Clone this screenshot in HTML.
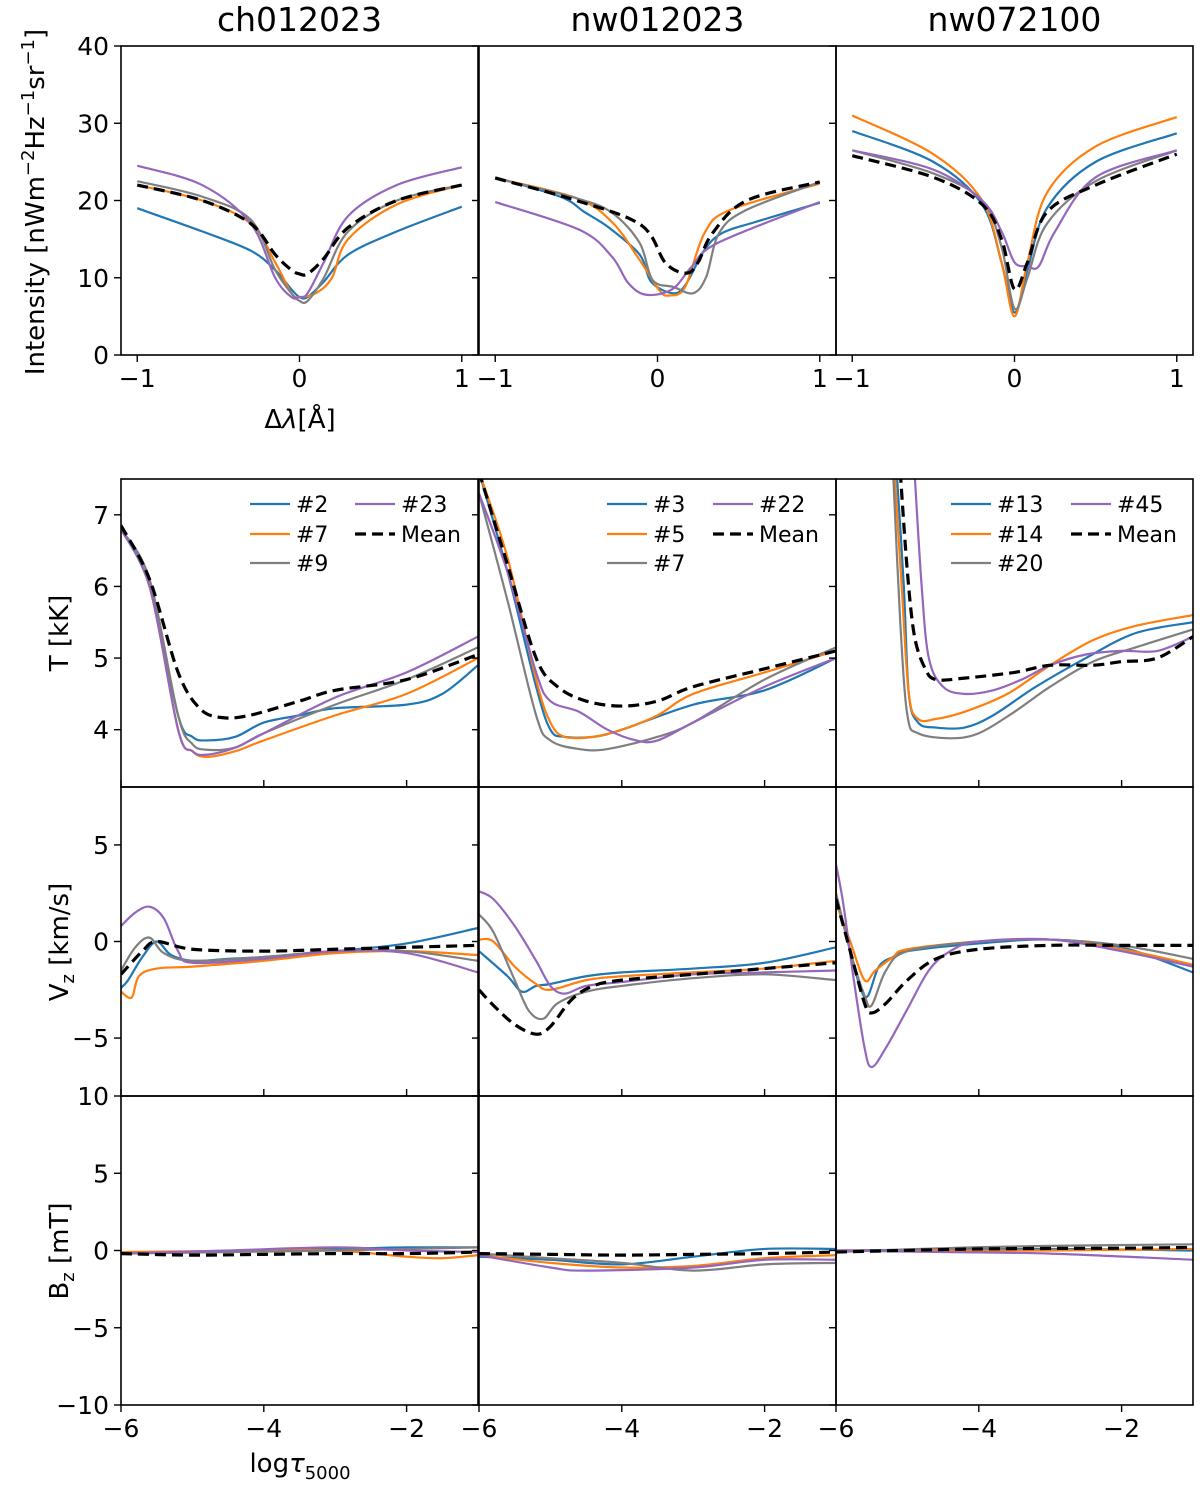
<!DOCTYPE html>
<html><head><meta charset="utf-8"><style>
body{margin:0;background:#fff}
svg text{font-family:"DejaVu Sans","Liberation Sans",sans-serif;fill:#000}
</style></head><body>
<svg id="fig" width="1200" height="1485" viewBox="0 0 1200 1485" xmlns="http://www.w3.org/2000/svg">
<defs>
<clipPath id="c0"><rect x="121" y="46" width="1072" height="309"/></clipPath>
</defs>
<g id="root"></g>
</svg>
<script>
// ---- shared axis info ----
const colX = [121, 479, 836];
const panelW = 357;
const colors = {blue:'#1f77b4', orange:'#ff7f0e', gray:'#7f7f7f', purple:'#9467bd', mean:'#000'};
const titles = ['ch012023','nw012023','nw072100'];

// ---- Intensity data (x in Å, y in nW m^-2 Hz^-1 sr^-1) ----
const I1_blue_x=[-1,-0.6,-0.3,-0.15,-0.05,0,0.05,0.15,0.3,0.6,1];
const I1_blue_y=[19,16,13.5,11,8.5,7.5,7.5,9.5,13,16,19.2];
const I1_orange_x=[-1,-0.6,-0.3,-0.15,-0.05,0,0.1,0.2,0.3,0.6,1];
const I1_orange_y=[22,20,17,12,8,7.5,8,10,15,19.5,22];
const I1_gray_x=[-1,-0.6,-0.3,-0.15,-0.05,0,0.05,0.15,0.3,0.6,1];
const I1_gray_y=[22.5,20.5,17.5,11,8,7,7,10,16,20,22];
const I1_purple_x=[-1,-0.6,-0.3,-0.15,-0.05,0,0.05,0.15,0.3,0.6,1];
const I1_purple_y=[24.5,22,17,10,7.5,7.5,8,12,18,22,24.3];
const I1_mean_x=[-1,-0.6,-0.3,-0.15,-0.05,0,0.05,0.15,0.3,0.6,1];
const I1_mean_y=[22,20,17,13,11,10.5,10.5,12.5,16.5,20,22];

const I2_blue_x=[-1,-0.6,-0.45,-0.3,-0.11,-0.04,0.09,0.17,0.29,0.4,0.6,1];
const I2_blue_y=[23,20.5,18.5,16.5,13.0,9.5,8.0,9.0,13.6,15.8,17.2,19.7];
const I2_orange_x=[-1,-0.5,-0.28,-0.11,0.01,0.07,0.17,0.29,0.45,1];
const I2_orange_y=[22.9,20.3,17.2,12.3,8.4,7.7,8.8,15.8,18.8,22.2];
const I2_gray_x=[-1,-0.5,-0.28,-0.11,-0.03,0.1,0.22,0.3,0.38,0.55,1];
const I2_gray_y=[22.9,20.3,18.4,14.5,9.7,8.8,8.0,10.1,15.8,18.8,22.4];
const I2_purple_x=[-1,-0.48,-0.28,-0.18,-0.07,0.09,0.21,0.37,1];
const I2_purple_y=[19.8,16.2,12.7,9.3,7.8,8.5,11.4,14.5,19.8];
const I2_mean_x=[-1,-0.5,-0.1,0.05,0.18,0.25,0.34,0.55,1];
const I2_mean_y=[22.9,20,16.8,11.9,10.6,12,15.8,20,22.4];

const I3_blue_x=[-1,-0.5,-0.2,-0.08,0,0.08,0.2,0.5,1];
const I3_blue_y=[29,25,19.5,12,5.5,11,19,25,28.7];
const I3_orange_x=[-1,-0.5,-0.2,-0.08,0,0.08,0.2,0.5,1];
const I3_orange_y=[31,26,20,12,5,12,21,27,30.8];
const I3_gray_x=[-1,-0.5,-0.2,-0.08,0,0.08,0.2,0.5,1];
const I3_gray_y=[26.5,23.5,20,14,6,10,17,22.5,26.5];
const I3_purple_x=[-1,-0.5,-0.2,-0.08,0,0.08,0.15,0.25,0.5,1];
const I3_purple_y=[26.5,24,20,16,12,11.5,11.5,16,23,26.5];
const I3_mean_x=[-1,-0.5,-0.2,-0.08,0,0.08,0.2,0.5,1];
const I3_mean_y=[25.8,23,19.5,15,8.5,12,18.5,22,26];

// ---- Temperature (x log tau, y kK) ----
const T1_blue_x=[-6,-5.6,-5.2,-5,-4.8,-4.4,-4,-3.5,-3,-2,-1.5,-1];
const T1_blue_y=[6.8,6.0,4.2,3.9,3.85,3.9,4.1,4.2,4.3,4.35,4.5,4.9];
const T1_orange_x=[-6,-5.6,-5.2,-5,-4.8,-4.4,-4,-3,-2,-1];
const T1_orange_y=[6.8,6.0,4.0,3.7,3.62,3.7,3.85,4.2,4.5,5.0];
const T1_gray_x=[-6,-5.6,-5.2,-5,-4.8,-4.4,-4,-3,-2,-1];
const T1_gray_y=[6.8,6.1,4.2,3.8,3.72,3.75,3.95,4.35,4.7,5.15];
const T1_purple_x=[-6,-5.6,-5.2,-5,-4.8,-4.4,-4,-3,-2,-1];
const T1_purple_y=[6.8,6.0,4.0,3.7,3.65,3.75,3.95,4.45,4.8,5.3];
const T1_mean_x=[-6,-5.6,-5.2,-4.9,-4.6,-4.2,-3.5,-3,-2,-1];
const T1_mean_y=[6.85,6.1,4.8,4.3,4.17,4.2,4.4,4.55,4.7,5.05];

const T2_blue_x=[-6,-5.6,-5.2,-5,-4.8,-4.4,-4,-3,-2,-1];
const T2_blue_y=[7.6,6.2,4.6,4.0,3.9,3.9,4.0,4.35,4.55,5.0];
const T2_orange_x=[-6,-5.6,-5.2,-5,-4.8,-4.4,-4,-3.5,-3,-2,-1];
const T2_orange_y=[7.6,6.4,4.7,4.1,3.9,3.9,4.0,4.2,4.5,4.8,5.1];
const T2_gray_x=[-6,-5.6,-5.2,-5,-4.6,-4.2,-3.5,-3,-2,-1];
const T2_gray_y=[7.3,5.8,4.2,3.85,3.73,3.73,3.9,4.1,4.7,5.15];
const T2_purple_x=[-6,-5.6,-5.2,-5,-4.6,-4.2,-3.8,-3.5,-3,-2,-1];
const T2_purple_y=[7.3,6.2,4.8,4.4,4.25,4.0,3.85,3.85,4.1,4.6,5.0];
const T2_mean_x=[-6,-5.6,-5.2,-4.9,-4.5,-4,-3.5,-3,-2,-1];
const T2_mean_y=[7.6,6.3,5.0,4.6,4.4,4.33,4.4,4.6,4.85,5.1];

const T3_blue_x=[-5.15,-5.05,-4.98,-4.85,-4.6,-4.2,-3.8,-3.2,-2.5,-1.8,-1];
const T3_blue_y=[7.6,6,4.5,4.1,4.03,4.03,4.2,4.6,5.0,5.35,5.5];
const T3_orange_x=[-5.18,-5.08,-4.98,-4.85,-4.6,-4.2,-3.6,-3,-2.4,-1.8,-1];
const T3_orange_y=[7.6,6,4.5,4.15,4.15,4.25,4.5,4.9,5.25,5.45,5.6];
const T3_gray_x=[-5.2,-5.1,-5.0,-4.85,-4.4,-4.0,-3.5,-3,-2.4,-1.8,-1];
const T3_gray_y=[7.6,5.5,4.2,3.95,3.88,3.95,4.25,4.6,4.95,5.15,5.4];
const T3_purple_x=[-4.9,-4.8,-4.7,-4.5,-4.2,-3.8,-3.4,-3,-2.5,-2,-1.5,-1];
const T3_purple_y=[7.6,6.0,5.0,4.6,4.5,4.55,4.7,4.9,5.05,5.1,5.1,5.3];
const T3_mean_x=[-5.1,-5.0,-4.9,-4.75,-4.6,-4.2,-3.5,-3,-2.4,-2,-1.5,-1];
const T3_mean_y=[7.6,6.2,5.3,4.85,4.7,4.72,4.8,4.9,4.9,4.95,5.0,5.3];

// ---- Vz (km/s) ----
const V1_blue_x=[-6,-5.9,-5.7,-5.5,-5.3,-5,-4.5,-4,-3,-2,-1];
const V1_blue_y=[-2.4,-2.0,-0.8,0,-0.7,-1.0,-0.9,-0.8,-0.5,-0.1,0.7];
const V1_orange_x=[-6,-5.85,-5.75,-5.5,-5,-4,-3,-2,-1];
const V1_orange_y=[-2.6,-2.9,-1.8,-1.4,-1.3,-1.0,-0.6,-0.5,-0.7];
const V1_gray_x=[-6,-5.8,-5.6,-5.4,-5,-4,-3,-2,-1];
const V1_gray_y=[-1.5,-0.3,0.2,-0.6,-1.0,-0.8,-0.5,-0.5,-1.0];
const V1_purple_x=[-6,-5.8,-5.6,-5.4,-5.2,-5,-4,-3,-2,-1];
const V1_purple_y=[0.8,1.5,1.8,1.2,-0.5,-1.1,-0.9,-0.5,-0.6,-1.6];
const V1_mean_x=[-6,-5.7,-5.5,-5,-4,-3,-2,-1];
const V1_mean_y=[-1.7,-0.5,0,-0.4,-0.5,-0.4,-0.3,-0.2];

const V2_blue_x=[-6,-5.6,-5.4,-5.2,-5,-4.5,-4,-3,-2,-1];
const V2_blue_y=[-0.5,-1.8,-2.6,-2.3,-2.2,-1.8,-1.6,-1.4,-1.1,-0.3];
const V2_orange_x=[-6,-5.8,-5.5,-5.2,-5,-4.5,-4,-3,-2,-1];
const V2_orange_y=[0.1,0,-1.3,-2.2,-2.5,-2.0,-1.8,-1.6,-1.4,-1.0];
const V2_gray_x=[-6,-5.8,-5.5,-5.3,-5.1,-4.9,-4.5,-4,-3,-2,-1];
const V2_gray_y=[1.4,0.5,-2.0,-3.6,-4.0,-3.2,-2.6,-2.3,-1.9,-1.7,-2.0];
const V2_purple_x=[-6,-5.8,-5.5,-5.2,-5,-4.8,-4.5,-4,-3,-2,-1];
const V2_purple_y=[2.6,2.2,0.8,-1.0,-2.3,-2.7,-2.3,-2.1,-1.7,-1.6,-1.5];
const V2_mean_x=[-6,-5.8,-5.5,-5.2,-5,-4.7,-4.4,-4,-3,-2,-1];
const V2_mean_y=[-2.5,-3.3,-4.3,-4.8,-4.4,-3.0,-2.3,-2.0,-1.7,-1.4,-1.1];

const V3_blue_x=[-6,-5.8,-5.65,-5.55,-5.4,-5.2,-5,-4,-3,-2,-1];
const V3_blue_y=[2.5,-0.5,-2.5,-2.8,-1.3,-0.8,-0.5,-0.1,0.1,-0.3,-1.6];
const V3_orange_x=[-6,-5.8,-5.6,-5.45,-5.2,-5,-4,-3,-2,-1];
const V3_orange_y=[2,0,-2.0,-1.5,-0.8,-0.4,0,0.1,-0.4,-1.2];
const V3_gray_x=[-6,-5.8,-5.6,-5.5,-5.3,-5,-4,-3,-2,-1];
const V3_gray_y=[2.5,-0.5,-2.8,-3.3,-1.5,-0.5,0,0.1,-0.2,-0.9];
const V3_purple_x=[-6,-5.9,-5.75,-5.6,-5.5,-5.3,-5,-4.7,-4.4,-4,-3,-2,-1];
const V3_purple_y=[4,2,-2.0,-5.5,-6.5,-5.5,-3.5,-1.5,-0.5,0,0.1,-0.5,-1.3];
const V3_mean_x=[-6,-5.8,-5.6,-5.5,-5.3,-5,-4.6,-4,-3,-2,-1];
const V3_mean_y=[2.2,-0.5,-3.2,-3.7,-3.2,-2.0,-0.9,-0.4,-0.2,-0.2,-0.2];

// ---- Bz (mT) ----
const B1_blue_x=[-6,-4.5,-3,-2,-1]; const B1_blue_y=[-0.2,-0.05,0.1,0.2,0.2];
const B1_orange_x=[-6,-4,-3,-2,-1.5,-1]; const B1_orange_y=[-0.1,0,0,-0.4,-0.5,-0.3];
const B1_gray_x=[-6,-4.5,-3,-2,-1]; const B1_gray_y=[-0.2,-0.1,0,0.1,0.2];
const B1_purple_x=[-6,-4.5,-3,-2,-1]; const B1_purple_y=[-0.2,0,0.2,0,-0.1];
const B1_mean_x=[-6,-5,-4,-3,-2,-1]; const B1_mean_y=[-0.2,-0.3,-0.25,-0.2,-0.2,-0.1];

const B2_blue_x=[-6,-5,-4,-3,-2,-1]; const B2_blue_y=[-0.4,-0.6,-0.9,-0.4,0.1,0.1];
const B2_orange_x=[-6,-5,-4,-3,-2,-1]; const B2_orange_y=[-0.3,-0.8,-1.1,-1.0,-0.5,-0.3];
const B2_gray_x=[-6,-5,-4,-3,-2,-1]; const B2_gray_y=[-0.2,-0.5,-0.8,-1.3,-0.9,-0.8];
const B2_purple_x=[-6,-5,-4.5,-3,-2,-1]; const B2_purple_y=[-0.3,-1.1,-1.3,-1.1,-0.6,-0.6];
const B2_mean_x=[-6,-5,-4,-3,-2,-1]; const B2_mean_y=[-0.2,-0.25,-0.3,-0.25,-0.2,-0.1];

const B3_blue_x=[-6,-3,-1]; const B3_blue_y=[0,0.1,0];
const B3_orange_x=[-6,-3,-1]; const B3_orange_y=[0,0,0.1];
const B3_gray_x=[-6,-4.5,-3,-1]; const B3_gray_y=[-0.1,0.15,0.3,0.4];
const B3_purple_x=[-6,-4.5,-3,-1]; const B3_purple_y=[0,-0.1,-0.2,-0.6];
const B3_mean_x=[-6,-4,-2,-1]; const B3_mean_y=[-0.1,0.1,0.15,0.2];

const seriesOrder=['blue','orange','gray','purple','mean'];
const legendLabels=[['#2','#7','#9','#23'],['#3','#5','#7','#22'],['#13','#14','#20','#45']];

// ---- axes ----
const rows = [
 {key:'I', top:46, bot:355, ymin:0, ymax:40, xmin:-1.1, xmax:1.1, yt:[0,10,20,30,40], xt:[-1,0,1]},
 {key:'T', top:479, bot:787, ymin:3.2, ymax:7.5, xmin:-6, xmax:-1, yt:[4,5,6,7], xt:[-6,-4,-2]},
 {key:'V', top:787, bot:1096, ymin:-8, ymax:8, xmin:-6, xmax:-1, yt:[-5,0,5], xt:[-6,-4,-2]},
 {key:'B', top:1096, bot:1405, ymin:-10, ymax:10, xmin:-6, xmax:-1, yt:[-10,-5,0,5,10], xt:[-6,-4,-2]}
];
const rowSrc = {
 I:[{blue:[I1_blue_x,I1_blue_y],orange:[I1_orange_x,I1_orange_y],gray:[I1_gray_x,I1_gray_y],purple:[I1_purple_x,I1_purple_y],mean:[I1_mean_x,I1_mean_y]},
    {blue:[I2_blue_x,I2_blue_y],orange:[I2_orange_x,I2_orange_y],gray:[I2_gray_x,I2_gray_y],purple:[I2_purple_x,I2_purple_y],mean:[I2_mean_x,I2_mean_y]},
    {blue:[I3_blue_x,I3_blue_y],orange:[I3_orange_x,I3_orange_y],gray:[I3_gray_x,I3_gray_y],purple:[I3_purple_x,I3_purple_y],mean:[I3_mean_x,I3_mean_y]}],
 T:[{blue:[T1_blue_x,T1_blue_y],orange:[T1_orange_x,T1_orange_y],gray:[T1_gray_x,T1_gray_y],purple:[T1_purple_x,T1_purple_y],mean:[T1_mean_x,T1_mean_y]},
    {blue:[T2_blue_x,T2_blue_y],orange:[T2_orange_x,T2_orange_y],gray:[T2_gray_x,T2_gray_y],purple:[T2_purple_x,T2_purple_y],mean:[T2_mean_x,T2_mean_y]},
    {blue:[T3_blue_x,T3_blue_y],orange:[T3_orange_x,T3_orange_y],gray:[T3_gray_x,T3_gray_y],purple:[T3_purple_x,T3_purple_y],mean:[T3_mean_x,T3_mean_y]}],
 V:[{blue:[V1_blue_x,V1_blue_y],orange:[V1_orange_x,V1_orange_y],gray:[V1_gray_x,V1_gray_y],purple:[V1_purple_x,V1_purple_y],mean:[V1_mean_x,V1_mean_y]},
    {blue:[V2_blue_x,V2_blue_y],orange:[V2_orange_x,V2_orange_y],gray:[V2_gray_x,V2_gray_y],purple:[V2_purple_x,V2_purple_y],mean:[V2_mean_x,V2_mean_y]},
    {blue:[V3_blue_x,V3_blue_y],orange:[V3_orange_x,V3_orange_y],gray:[V3_gray_x,V3_gray_y],purple:[V3_purple_x,V3_purple_y],mean:[V3_mean_x,V3_mean_y]}],
 B:[{blue:[B1_blue_x,B1_blue_y],orange:[B1_orange_x,B1_orange_y],gray:[B1_gray_x,B1_gray_y],purple:[B1_purple_x,B1_purple_y],mean:[B1_mean_x,B1_mean_y]},
    {blue:[B2_blue_x,B2_blue_y],orange:[B2_orange_x,B2_orange_y],gray:[B2_gray_x,B2_gray_y],purple:[B2_purple_x,B2_purple_y],mean:[B2_mean_x,B2_mean_y]},
    {blue:[B3_blue_x,B3_blue_y],orange:[B3_orange_x,B3_orange_y],gray:[B3_gray_x,B3_gray_y],purple:[B3_purple_x,B3_purple_y],mean:[B3_mean_x,B3_mean_y]}]
};

const NS='http://www.w3.org/2000/svg';
const root=document.getElementById('root');
const defs=document.querySelector('defs');
function mk(tag, attrs, parent){const e=document.createElementNS(NS,tag);for(const k in attrs)e.setAttribute(k,attrs[k]);(parent||root).appendChild(e);return e;}
function fmt(v){return v<0?'\u2212'+Math.abs(v):String(v);}
function smoothPath(pts){
  if(pts.length<3) return 'M'+pts.map(p=>p.join(',')).join('L');
  let d='M'+pts[0][0]+','+pts[0][1];
  for(let i=0;i<pts.length-1;i++){
    const p0=pts[Math.max(0,i-1)],p1=pts[i],p2=pts[i+1],p3=pts[Math.min(pts.length-1,i+2)];
    const t=0.5/3;
    const c1=[p1[0]+(p2[0]-p0[0])*t, p1[1]+(p2[1]-p0[1])*t];
    const c2=[p2[0]-(p3[0]-p1[0])*t, p2[1]-(p3[1]-p1[1])*t];
    d+='C'+c1.join(',')+' '+c2.join(',')+' '+p2.join(',');
  }
  return d;
}

rows.forEach((r,ri)=>{
  colX.forEach((x0,ci)=>{
    const xs=v=>x0+(v-r.xmin)/(r.xmax-r.xmin)*panelW;
    const ys=v=>r.bot-(v-r.ymin)/(r.ymax-r.ymin)*(r.bot-r.top);
    const g=mk('g',{});
    
    
    const cid='clip'+ri+ci;
    const cp=mk('clipPath',{id:cid},defs);
    mk('rect',{x:x0,y:r.top,width:panelW,height:r.bot-r.top},cp);
    const lines=mk('g',{'clip-path':'url(#'+cid+')'},g);
    const src=rowSrc[r.key][ci];
    seriesOrder.forEach(s=>{
      const [xa,ya]=src[s];
      const pts=xa.map((xv,i)=>[+xs(xv).toFixed(2),+ys(ya[i]).toFixed(2)]);
      const p=mk('path',{d:smoothPath(pts),fill:'none',stroke:colors[s],'stroke-width':s==='mean'?3.2:2.2,'stroke-dasharray':s==='mean'?'11,6':'none','stroke-linejoin':'round'},lines);
      
      
    });
    const fr=mk('rect',{x:x0,y:r.top,width:panelW,height:r.bot-r.top,fill:'none',stroke:'#000','stroke-width':1.6},g);
    
    
    r.yt.forEach(v=>{
      const y=ys(v);
      mk('line',{x1:x0-7,x2:x0,y1:y,y2:y,stroke:'#000','stroke-width':1.4},g);
      if(ci===0){
        const t=mk('text',{x:x0-12,y:y+9,'text-anchor':'end','font-size':25},g);
        t.textContent=fmt(v);
        
        
      }
    });
    r.xt.forEach(v=>{
      const x=xs(v);
      if(r.key==='I'||r.key==='B'){
        mk('line',{x1:x,x2:x,y1:r.bot,y2:r.bot+7,stroke:'#000','stroke-width':1.4},g);
        const t=mk('text',{x:x,y:r.bot+32,'text-anchor':'middle','font-size':25},g);
        t.textContent=fmt(v);
        
        
      } else {
        mk('line',{x1:x,x2:x,y1:r.bot-7,y2:r.bot,stroke:'#000','stroke-width':1.4},g);
      }
    });
    if(r.key==='I'){
      const t=mk('text',{x:x0+panelW/2,y:31,'text-anchor':'middle','font-size':33},g);
      t.textContent=titles[ci];
      
      
    }
    if(r.key==='T'){
      const labs=legendLabels[ci];
      const lg=mk('g',{},g);
      
      
      const offs=[x0+129, x0+128, x0+115];
      const c1=offs[ci], c2=[x0+234,x0+234,x0+235][ci];
      const ent=[[c1,504,'blue',labs[0]],[c1,534,'orange',labs[1]],[c1,563,'gray',labs[2]],[c2,504,'purple',labs[3]],[c2,534,'mean','Mean']];
      ent.forEach(e=>{
        mk('line',{x1:e[0],x2:e[0]+40,y1:e[1],y2:e[1],stroke:colors[e[2]],'stroke-width':e[2]==='mean'?3.2:2.2,'stroke-dasharray':e[2]==='mean'?'11,6':'none'},lg);
        const t=mk('text',{x:e[0]+46,y:e[1]+8,'font-size':22},lg);
        t.textContent=e[3];
        
        
      });
    }
  });
});
function lab(txt,x,y,rot,name,html){
  const t=mk('text',{x:x,y:y,'text-anchor':'middle','font-size':26,transform:rot?`rotate(-90 ${x} ${y})`:''});
  t.innerHTML=html||txt;
  
  
}
lab('',44,202,true,'y-axis-title-intensity','Intensity [nWm<tspan dy="-10" font-size="18">−2</tspan><tspan dy="10">Hz</tspan><tspan dy="-10" font-size="18">−1</tspan><tspan dy="10">sr</tspan><tspan dy="-10" font-size="18">−1</tspan><tspan dy="10">]</tspan>');
lab('',300,428,false,'x-axis-title-wavelength','Δ<tspan font-style="italic">λ</tspan>[Å]');
lab('T [kK]',68,633,true,'y-axis-title-temperature');
lab('',68,942,true,'y-axis-title-vz','V<tspan dy="6" font-size="18">z</tspan><tspan dy="-6"> [km/s]</tspan>');
lab('',68,1251,true,'y-axis-title-bz','B<tspan dy="6" font-size="18">z</tspan><tspan dy="-6"> [mT]</tspan>');
lab('',300,1472,false,'x-axis-title-logtau','log<tspan font-style="italic">τ</tspan><tspan dy="7" font-size="18">5000</tspan>');
</script>
</body></html>
